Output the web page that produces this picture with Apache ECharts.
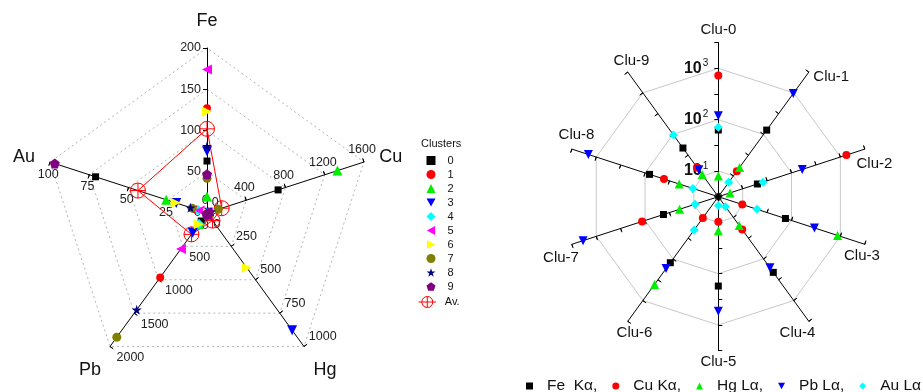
<!DOCTYPE html>
<html>
<head>
<meta charset="utf-8">
<script src="https://cdn.jsdelivr.net/npm/echarts@6/dist/echarts.min.js"></script>
<style>
html, body { margin: 0; padding: 0; background: #fff; }
#chart { width: 923px; height: 392px; }
</style>
</head>
<body>
<div id="chart"></div>
<script>
// Elements, clockwise from the top of the pentagon
const elements = ['Fe', 'Cu', 'Hg', 'Pb', 'Au'];
const elementMax = [200, 1600, 1000, 2000, 100];
const lineNames = ['Fe  Kα,', 'Cu Kα,', 'Hg Lα,', 'Pb Lα,', 'Au Lα'];
const clusterNames = ['0', '1', '2', '3', '4', '5', '6', '7', '8', '9'];
const clusterAxisNames = ['Clu-0', 'Clu-1', 'Clu-2', 'Clu-3', 'Clu-4', 'Clu-5', 'Clu-6', 'Clu-7', 'Clu-8', 'Clu-9'];

// Mean intensity of each element per cluster (clusters 0..9)
const feValues = [63, 127, 20, 75, 210, 174, 123, 42, 81, 47];
const cuValues = [725, 13, 1330, 9.8, 19.6, 9.7, 10.3, 115, 41, 16];
const hgValues = [8, 16, 5.5, 878, 15.6, 14.6, 410, 19.6, 20, 10.8];
const pbValues = [120, 965, 166, 295, 163, 538, 170, 1860, 1450, 14];
const auValues = [71, 7, 26, 19.6, 5.5, 4.7, 20, 9.5, 10.5, 97];
// Overall average: Fe, Cu, Hg, Pb, Au
const avValues = [102, 150, 57, 320, 44];

const logTickLabels = ['10', '10', '10'];

const elementSeries = [feValues, cuValues, hgValues, pbValues, auValues];

const FONT = 'Liberation Sans, Arial, Helvetica, sans-serif';

// marker shapes
const downTri = 'path://M0,0L10,0L5,9Z';
const leftTri = 'path://M9,0L9,10L0,5Z';
const rightTri = 'path://M0,0L0,10L9,5Z';
const star = 'path://M5,0L6.2,3.6L10,3.6L6.9,5.9L8.1,9.5L5,7.3L1.9,9.5L3.1,5.9L0,3.6L3.8,3.6Z';
const pentagon = 'path://M5,0L10,3.6L8.1,9.5L1.9,9.5L0,3.6Z';
const crossCircle = 'path://M0,10A10,10,0,1,1,20,10A10,10,0,1,1,0,10ZM10,0L10,20M0,10L20,10';
const crossCircleLine = 'path://M0,10L6,10M26,10L32,10M6,10A10,10,0,1,1,26,10A10,10,0,1,1,6,10ZM16,0L16,20M6,10L26,10';

const clusterStyle = [
  { symbol: 'rect', size: 7, color: '#000000' },
  { symbol: 'circle', size: 8, color: '#ff0000' },
  { symbol: 'triangle', size: 10, color: '#00ee00' },
  { symbol: downTri, size: 10, color: '#0000ff' },
  { symbol: 'diamond', size: 10, color: '#00ffff' },
  { symbol: leftTri, size: 10, color: '#ff00ff' },
  { symbol: rightTri, size: 10, color: '#ffff00' },
  { symbol: 'circle', size: 9, color: '#808000' },
  { symbol: star, size: 10, color: '#000080' },
  { symbol: pentagon, size: 10, color: '#800080' }
];
const elementStyle = [
  { symbol: 'rect', size: 7, color: '#000000' },
  { symbol: 'circle', size: 8, color: '#ff0000' },
  { symbol: 'triangle', size: 9, color: '#00ee00' },
  { symbol: downTri, size: 9, color: '#0000ff' },
  { symbol: 'diamond', size: 9, color: '#00ffff' }
];

// ECharts lays radar indicators out counter-clockwise, so list them reversed
const leftOrder = [0, 4, 3, 2, 1];
const rightOrder = [0, 9, 8, 7, 6, 5, 4, 3, 2, 1];

// name offsets (dx, dy) from each axis end: dx goes to padding, dy to a spacer line
function namePad(dx) {
  return [0, Math.max(0, -2 * dx), 0, Math.max(0, 2 * dx)];
}
function nameFormatter(name, ind) {
  const dy = ind.shiftY || 0;
  if (Math.abs(dy) < 0.5) return '{n|' + name + '}';
  return dy > 0 ? '{g' + ind.gapKey + '| }\n{n|' + name + '}' : '{n|' + name + '}\n{g' + ind.gapKey + '| }';
}
function nameRich(shifts, fontSize) {
  const rich = { n: { fontSize: fontSize, color: '#111', fontFamily: FONT, lineHeight: fontSize + 2 } };
  shifts.forEach((s, i) => {
    const h = Math.max(1, 2 * Math.abs(s[1]));
    rich['g' + i] = { fontSize: 1, lineHeight: h, height: h };
  });
  return rich;
}

const leftNameShift = [[0, -26.5], [26.8, -4.7], [21, 23.5], [-20, 23.5], [-26.1, -4.7]];
const rightNameShift = [[0, -12.7], [22.4, 4.9], [9.7, 14.9], [-2.8, 11.7], [-11.3, 11.7],
  [0, 11.3], [6.7, 11.7], [-10.8, 13.7], [4.7, -14.1], [3.7, -11.1]];

// tick label placement per element axis (Fe, Cu, Hg, Pb, Au)
const leftLabelStyle = [
  { align: 'right', verticalAlign: 'middle', margin: 6 },
  { align: 'center', verticalAlign: 'bottom', margin: 6 },
  { align: 'left', verticalAlign: 'bottom', margin: 6 },
  { align: 'left', verticalAlign: 'top', margin: 8 },
  { align: 'center', verticalAlign: 'top', margin: 6 }
];

const leftIndicators = leftOrder.map(i => ({
  name: elements[i], min: 0, max: elementMax[i],
  shiftY: leftNameShift[i][1], gapKey: i,
  nameMoveOverlap: false,
  nameTextStyle: { align: 'center', verticalAlign: 'middle', padding: namePad(leftNameShift[i][0]) },
  axisLabel: Object.assign({ show: true, formatter: v => String(v) }, leftLabelStyle[i])
}));

const rightIndicators = rightOrder.map((k, j) => {
  const ind = {
    name: clusterAxisNames[k], min: 0.5, max: 3.5,
    shiftY: rightNameShift[k][1], gapKey: k,
    nameMoveOverlap: false,
    nameTextStyle: { align: 'center', verticalAlign: 'middle', padding: namePad(rightNameShift[k][0]) }
  };
  if (j === 0) {
    ind.axisLabel = {
      show: true, margin: 10,
      formatter: function (v) {
        const e = Math.round(v);
        if (Math.abs(v - e) > 1e-6 || e < 1 || e > 3) return '';
        return '{b|' + logTickLabels[e - 1] + '}{s|' + e + '}';
      },
      rich: {
        b: { fontSize: 16, fontWeight: 'bold', color: '#111', fontFamily: FONT },
        s: { fontSize: 10, color: '#111', fontFamily: FONT, padding: [0, 0, 10, 1] }
      }
    };
  }
  return ind;
});

// values past an axis end are left off the pentagon
function clip(values) {
  return leftOrder.map(i => (values[i] > elementMax[i] ? '-' : values[i]));
}

const series = [];

// average profile with connecting line
series.push({
  type: 'radar', radarIndex: 0, name: 'Av.', silent: true, z: 2,
  symbol: crossCircle, symbolSize: 15, symbolKeepAspect: true,
  itemStyle: { color: 'rgba(0,0,0,0)', borderColor: '#ff0000', borderWidth: 1 },
  lineStyle: { color: '#ff0000', width: 1 },
  data: [{ name: 'Av.', value: clip(avValues) }]
});

clusterNames.forEach((name, c) => {
  const st = clusterStyle[c];
  series.push({
    type: 'radar', radarIndex: 0, name: name, silent: true, z: 3,
    symbol: st.symbol, symbolSize: st.size, symbolKeepAspect: true,
    itemStyle: { color: st.color },
    lineStyle: { opacity: 0, width: 0 },
    data: [{ name: name, value: clip(elementSeries.map(arr => arr[c])) }]
  });
});

lineNames.forEach((name, e) => {
  const st = elementStyle[e];
  series.push({
    type: 'radar', radarIndex: 1, name: name, silent: true, z: 3,
    symbol: st.symbol, symbolSize: st.size, symbolKeepAspect: true,
    itemStyle: { color: st.color },
    lineStyle: { opacity: 0, width: 0 },
    data: [{ name: name, value: rightOrder.map(k => Math.log10(elementSeries[e][k])) }]
  });
});

const leftRadar = {
  center: [207, 213], radius: 165, startAngle: 90, shape: 'polygon', splitNumber: 4,
  nameGap: 0,
  indicator: leftIndicators,
  axisName: { color: '#111', fontSize: 18, fontFamily: FONT, formatter: nameFormatter, rich: nameRich(leftNameShift, 18) },
  axisLine: { lineStyle: { color: '#000', width: 1 } },
  axisTick: { show: true, length: 4, lineStyle: { color: '#000' } },
  axisLabel: { show: true, color: '#222', fontSize: 12.5, fontFamily: FONT },
  splitLine: { lineStyle: { color: '#b4b4b4', type: [2, 3], width: 1 } },
  splitArea: { show: false }
};
const rightRadar = {
  center: [718.3, 196.7], radius: 154, startAngle: 90, shape: 'polygon', splitNumber: 6,
  nameGap: 0,
  indicator: rightIndicators,
  axisName: { color: '#111', fontSize: 15, fontFamily: FONT, formatter: nameFormatter, rich: nameRich(rightNameShift, 15) },
  axisLine: { lineStyle: { color: '#000', width: 1 } },
  axisTick: { show: true, length: 4, lineStyle: { color: '#000' } },
  axisLabel: { show: false },
  splitLine: { lineStyle: { color: ['rgba(0,0,0,0)', '#c8c8c8'], width: 1 } },
  splitArea: { show: false }
};
// same axes again, only to put the other half of each cross tick
function tickTwin(base, indicators) {
  return {
    center: base.center, radius: base.radius, startAngle: base.startAngle, shape: base.shape,
    splitNumber: base.splitNumber, silent: true,
    indicator: indicators.map(ind => ({ name: '', min: ind.min, max: ind.max })),
    axisName: { show: false },
    axisLine: { show: false },
    axisTick: { show: true, inside: true, length: 3, lineStyle: { color: '#000' } },
    axisLabel: { show: false },
    splitLine: { show: false },
    splitArea: { show: false }
  };
}

const option = {
  animation: false,
  backgroundColor: '#ffffff',
  textStyle: { fontFamily: FONT },
  title: {
    text: 'Clusters', left: 421, top: 138, padding: 0,
    textStyle: { fontSize: 11, fontWeight: 'normal', color: '#111', fontFamily: FONT }
  },
  legend: [
    {
      orient: 'vertical', left: 426.5, top: 155, padding: 0,
      itemWidth: 9, itemHeight: 9, itemGap: 3, selectedMode: false,
      symbolKeepAspect: true,
      textStyle: { fontSize: 11, color: '#111', padding: [0, 0, 0, 7], fontFamily: FONT },
      data: clusterNames.map((n, i) => ({ name: n, icon: clusterStyle[i].symbol }))
    },
    {
      orient: 'vertical', left: 418, top: 296, padding: 0,
      itemWidth: 25, itemHeight: 11, selectedMode: false,
      textStyle: { fontSize: 11, color: '#111', padding: [0, 0, 0, 0], fontFamily: FONT },
      data: [{ name: 'Av.', icon: crossCircleLine,
        itemStyle: { color: 'rgba(0,0,0,0)', borderColor: '#ff0000', borderWidth: 1 } }]
    },
    {
      orient: 'horizontal', left: 526, top: 378, width: 700, padding: 0,
      itemWidth: 7, itemHeight: 7, itemGap: 15, selectedMode: false,
      symbolKeepAspect: true,
      textStyle: { fontSize: 15.5, color: '#111', padding: [0, 0, 0, 9], fontFamily: FONT },
      data: lineNames.map((n, i) => ({ name: n, icon: elementStyle[i].symbol }))
    }
  ],
  radar: [leftRadar, rightRadar, tickTwin(leftRadar, leftIndicators), tickTwin(rightRadar, rightIndicators)],
  series: series
};

const chart = echarts.init(document.getElementById('chart'), null, { renderer: 'canvas' });
chart.setOption(option);
</script>
</body>
</html>
